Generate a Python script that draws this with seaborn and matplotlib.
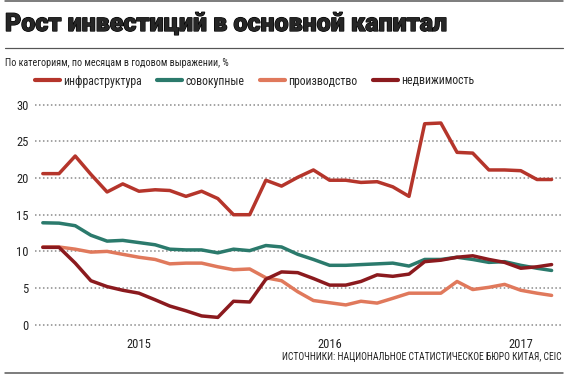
import pandas as pd
import matplotlib
matplotlib.use('Agg')
import matplotlib.pyplot as plt
import matplotlib.patheffects as pe
from matplotlib import font_manager
from matplotlib.lines import Line2D
import seaborn as sns

# Данные: помесячно, июль 2014 - март 2017, % г/г
meses = pd.date_range('2014-07-01', periods=33, freq='MS')

infraestrutura = [20.6, 20.6, 23.0, 20.5, 18.1, 19.2, 18.2, 18.4, 18.3, 17.5, 18.2,
                  17.2, 15.0, 15.0, 19.7, 18.9, 20.1, 21.1, 19.7, 19.7, 19.4, 19.5,
                  18.8, 17.5, 27.4, 27.5, 23.5, 23.4, 21.1, 21.1, 21.0, 19.8, 19.8]
total = [13.9, 13.85, 13.5, 12.2, 11.4, 11.5, 11.2, 10.9, 10.3, 10.2, 10.2,
         9.8, 10.3, 10.1, 10.8, 10.6, 9.6, 8.9, 8.1, 8.1, 8.2, 8.3,
         8.4, 8.0, 8.9, 8.9, 9.2, 8.9, 8.5, 8.6, 8.1, 7.7, 7.4]
producao = [10.6, 10.6, 10.3, 9.9, 10.0, 9.6, 9.2, 8.9, 8.3, 8.4, 8.4,
            7.9, 7.5, 7.6, 6.4, 6.0, 4.5, 3.3, 3.0, 2.7, 3.2, 2.95,
            3.6, 4.3, 4.3, 4.3, 5.9, 4.8, 5.1, 5.5, 4.7, 4.3, 4.0]
imoveis = [10.55, 10.55, 8.4, 6.0, 5.2, 4.7, 4.3, 3.4, 2.55, 1.9, 1.2,
           1.0, 3.2, 3.1, 6.2, 7.2, 7.1, 6.3, 5.4, 5.4, 5.9, 6.8,
           6.6, 6.9, 8.6, 8.8, 9.2, 9.4, 8.9, 8.5, 7.7, 7.9, 8.2]

categorias = ['инфраструктура', 'совокупные', 'производство', 'недвижимость']
cores = ['#b5352b', '#2b7a6c', '#e0795c', '#8b1a1e']

anos = ['2015', '2016', '2017']
valores_y = [0, 5, 10, 15, 20, 25, 30]

# Tabela no formato longo para o seaborn
df = pd.DataFrame({'Мес': list(meses) * 4,
                   'Значение': infraestrutura + total + producao + imoveis,
                   'Категория': [c for c in categorias for _ in meses]})

sns.set_theme(style='white')
nomes = {f.name for f in font_manager.fontManager.ttflist}
fonte = next((n for n in ['Liberation Sans Narrow', 'Roboto Condensed', 'Roboto']
              if n in nomes), 'DejaVu Sans')
plt.rcParams['font.family'] = [fonte, 'DejaVu Sans']

fig = plt.figure(figsize=(5.7, 3.75), dpi=100)
ax = fig.add_axes([35 / 570, 0.1184, 526 / 570, 0.6181])

sns.lineplot(data=df, x='Мес', y='Значение', hue='Категория', hue_order=categorias,
             palette=dict(zip(categorias, cores)), linewidth=2.5, legend=False, ax=ax)

ax.set_ylim(-0.8, 30.8)
ax.set_xlim(pd.Timestamp('2014-06-16'), pd.Timestamp('2017-03-19'))
ax.set_yticks(valores_y)
ax.set_yticklabels([str(v) for v in valores_y], fontsize=9, color='#222222')
ax.set_xticks(pd.to_datetime([a + '-01-01' for a in anos]))
ax.set_xticklabels(anos, fontsize=9, color='#222222')
ax.tick_params(axis='both', length=0)
ax.tick_params(axis='y', pad=4.5)
ax.tick_params(axis='x', pad=5)
ax.set_xlabel('')
ax.set_ylabel('')
ax.grid(axis='y', linestyle=(0, (1, 1.6)), color='#8a8a8a', linewidth=1.1)
ax.grid(axis='x', visible=False)
for s in ax.spines.values():
    s.set_visible(False)

# Legenda
handles = [Line2D([], [], color=c, linewidth=3) for c in cores]
ax.legend(handles, categorias, ncol=4, loc='center left',
          bbox_to_anchor=(35 / 570, 1 - 81 / 375), bbox_transform=fig.transFigure,
          frameon=False, fontsize=8.5, handlelength=2.1, handletextpad=0.25,
          columnspacing=1.35, borderpad=0, borderaxespad=0)

# Títulos e linhas
fig.text(5 / 570, 1 - 31 / 375, 'Рост инвестиций в основной капитал',
         fontsize=18, fontweight='black', family=['Roboto', 'DejaVu Sans'], va='baseline',
         path_effects=[pe.withStroke(linewidth=0.9, foreground='black')])
fig.text(5 / 570, 1 - 66 / 375, 'По категориям, по месяцам в годовом выражении, %',
         fontsize=7.2, va='baseline', color='#222222')
fig.text(562 / 570, 1 - 357 / 375, 'ИСТОЧНИКИ: НАЦИОНАЛЬНОЕ СТАТИСТИЧЕСКОЕ БЮРО КИТАЯ, CEIC',
         fontsize=6.9, ha='right', va='center', color='#222222')

for y, lw in [(0.8, 1.5), (47.7, 1.2), (373.3, 1.5)]:
    fig.add_artist(Line2D([5 / 570, 563 / 570], [1 - y / 375, 1 - y / 375],
                          color='#555555', linewidth=lw * 0.72, transform=fig.transFigure))

plt.savefig('out.png', dpi=100)
